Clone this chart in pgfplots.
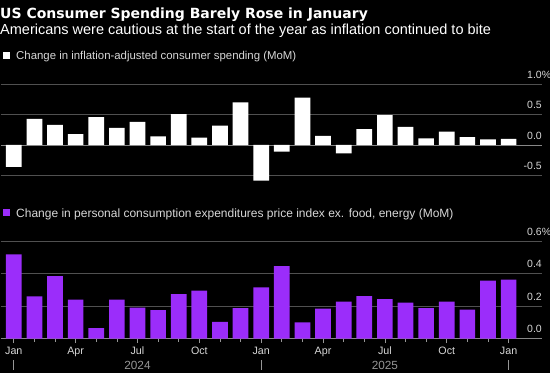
\documentclass[border=0pt]{standalone}
\usepackage{fontspec}
\setmainfont{Liberation Sans}
\newfontfamily\titlefont{DejaVu Sans}
\usepackage{pgfplots}
\usepackage{pgfplotstable}
\pgfplotsset{compat=1.18}
\definecolor{pur}{RGB}{155,45,250}
\definecolor{gridc}{RGB}{80,80,80}
\definecolor{zeroc}{RGB}{135,135,135}
\definecolor{labc}{RGB}{215,215,215}
\definecolor{yearc}{RGB}{150,150,150}

\pgfplotstableread{
i spend core
0  -0.36 0.52
1   0.43 0.26
2   0.33 0.385
3   0.18 0.24
4   0.46 0.064
5   0.28 0.24
6   0.38 0.19
7   0.14 0.175
8   0.51 0.274
9   0.12 0.296
10  0.32 0.103
11  0.70 0.187
12 -0.59 0.315
13 -0.11 0.446
14  0.78 0.099
15  0.15 0.185
16 -0.14 0.228
17  0.26 0.261
18  0.49 0.243
19  0.30 0.222
20  0.11 0.187
21  0.22 0.228
22  0.13 0.179
23  0.09 0.358
24  0.10 0.364
}\data

\pgfplotsset{
  panel/.style={
    scale only axis, width=541pt,
    xmin=-0.62, xmax=25.62,
    axis line style={draw=none},
    ymajorgrids, grid style={gridc, line width=0.8pt},
    yticklabel pos=right,
    ytick style={draw=none},
    yticklabel style={anchor=south east, inner sep=0pt, yshift=5.5pt, text=labc, font=\fontsize{10.5}{12}\selectfont},
    /pgf/number format/assume math mode=true,
    extra y ticks={0}, extra y tick labels={},
    extra y tick style={grid style={zeroc, line width=0.8pt}},
  }
}

\begin{document}
\begin{tikzpicture}
\fill[black] (0,0) rectangle (550pt,373pt);
\node[anchor=base west, inner sep=0pt, text=white, font=\titlefont\bfseries\fontsize{14}{16}\selectfont] at (0pt,354pt) {US Consumer Spending Barely Rose in January};
\node[anchor=base west, inner sep=0pt, text=white, font=\fontsize{14.5}{16}\selectfont] at (0pt,338pt) {Americans were cautious at the start of the year as inflation continued to bite};
\fill[white] (2.5pt,313.7pt) rectangle (9.5pt,320.7pt);
\node[anchor=base west, inner sep=0pt, text=labc, font=\fontsize{11.4}{14}\selectfont] at (16pt,313.5pt) {Change in inflation-adjusted consumer spending (MoM)};
\fill[pur] (2.5pt,156.5pt) rectangle (9.5pt,163.5pt);
\node[anchor=base west, inner sep=0pt, text=labc, font=\fontsize{12}{14}\selectfont] at (16pt,155.8pt) {Change in personal consumption expenditures price index ex. food, energy (MoM)};

\begin{axis}[panel, at={(1pt,185.6pt)}, anchor=south west, height=103.1pt,
  ymin=-0.7, ymax=1.0, ytick={-0.5,0,0.5,1}, yticklabels={-0.5,0.0,0.5,1.0\rlap{\%}},
  xtick=\empty]
\addplot[ybar, bar width=15.7pt, fill=white, draw=none] table[x=i, y=spend]{\data};
\end{axis}

\begin{axis}[panel, at={(1pt,34.5pt)}, anchor=south west, height=97.2pt,
  ymin=0, ymax=0.6, ytick={0,0.2,0.4,0.6}, yticklabels={0.0,0.2,0.4,0.6\rlap{\%}},
  xtick={0,3,...,24}, xticklabels={Jan,Apr,Jul,Oct,Jan,Apr,Jul,Oct,Jan},
  minor xtick={0,...,24}, xtick pos=bottom, xtick align=outside,
  major tick length=4.5pt, minor tick length=3pt,
  xtick style={draw=yearc, line width=0.7pt},
  xticklabel style={anchor=base, inner sep=0pt, yshift=-11pt, text=labc, font=\fontsize{10.7}{12}\selectfont},
  clip=false]
\addplot[ybar, bar width=15.7pt, fill=pur, draw=none] table[x=i, y=core]{\data};
\draw[yearc, line width=0.7pt] (axis cs:0,0) ++(0pt,-21.5pt) -- ++(0pt,-10pt);
\draw[yearc, line width=0.7pt] (axis cs:12,0) ++(0pt,-21.5pt) -- ++(0pt,-10pt);
\draw[yearc, line width=0.7pt] (axis cs:24,0) ++(0pt,-21.5pt) -- ++(0pt,-10pt);
\node[anchor=base, inner sep=0pt, text=yearc, font=\fontsize{11.8}{14}\selectfont, yshift=-30.8pt] at (axis cs:6,0) {2024};
\node[anchor=base, inner sep=0pt, text=yearc, font=\fontsize{11.8}{14}\selectfont, yshift=-30.8pt] at (axis cs:18,0) {2025};
\end{axis}
\pgfresetboundingbox
\path (0,0) rectangle (550pt,373pt);
\end{tikzpicture}
\end{document}
